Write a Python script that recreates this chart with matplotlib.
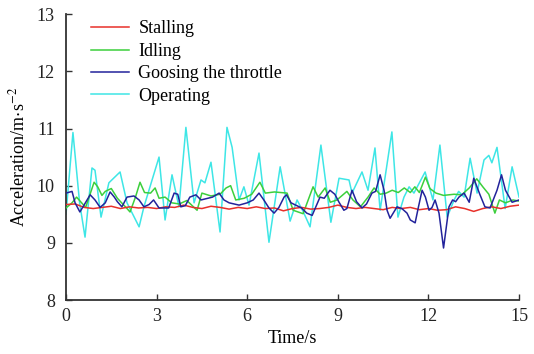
import matplotlib
matplotlib.use('Agg')
import matplotlib.pyplot as plt

# Stalling
t_stall = [0, 0.3, 0.6, 0.9, 1.2, 1.5, 1.8, 2.1, 2.4, 2.7, 3.0, 3.3, 3.6, 3.9, 4.2, 4.5, 4.8,
           5.1, 5.4, 5.7, 6.0, 6.3, 6.6, 6.9, 7.2, 7.5, 7.8, 8.1, 8.4, 8.7, 9.0, 9.3, 9.6, 9.9,
           10.2, 10.5, 10.8, 11.1, 11.4, 11.7, 12.0, 12.3, 12.6, 12.9, 13.2, 13.5, 13.8, 14.1,
           14.4, 14.7, 15.0]
stall = [9.67, 9.68, 9.62, 9.60, 9.62, 9.64, 9.60, 9.63, 9.61, 9.62, 9.60, 9.63, 9.62, 9.66,
         9.62, 9.60, 9.64, 9.62, 9.59, 9.62, 9.60, 9.63, 9.60, 9.61, 9.56, 9.60, 9.62, 9.59,
         9.60, 9.62, 9.66, 9.62, 9.60, 9.62, 9.60, 9.58, 9.62, 9.60, 9.62, 9.58, 9.60, 9.57,
         9.58, 9.63, 9.60, 9.55, 9.60, 9.63, 9.60, 9.64, 9.66]

# Idling
t_idle = [0.0, 0.2, 0.35, 0.55, 0.65, 0.93, 1.05, 1.19, 1.3, 1.5, 1.7, 2.02, 2.12, 2.3, 2.45,
          2.6, 2.8, 2.95, 3.08, 3.28, 3.5, 3.75, 4.0, 4.34, 4.5, 4.8, 5.1, 5.3, 5.45, 5.62, 5.9,
          6.15, 6.42, 6.6, 6.9, 7.32, 7.52, 7.85, 8.18, 8.35, 8.58, 8.75, 8.97, 9.3, 9.5, 9.75,
          10.0, 10.2, 10.4, 10.6, 10.8, 11.0, 11.2, 11.4, 11.55, 11.7, 11.9, 12.05, 12.25, 12.5,
          12.85, 13.1, 13.35, 13.6, 13.8, 14.0, 14.2, 14.35, 14.55, 14.8, 15.0]
idle = [9.61, 9.70, 9.80, 9.68, 9.62, 10.06, 9.98, 9.83, 9.90, 9.95, 9.78, 9.60, 9.54, 9.80,
        10.06, 9.88, 9.87, 9.96, 9.78, 9.80, 9.70, 9.68, 9.74, 9.57, 9.87, 9.82, 9.85, 9.96,
        10.00, 9.75, 9.78, 9.85, 10.06, 9.87, 9.89, 9.87, 9.57, 9.51, 9.98, 9.80, 9.96, 9.71,
        9.75, 9.90, 9.75, 9.63, 9.80, 9.96, 9.85, 9.87, 9.92, 9.88, 9.96, 9.88, 9.98, 9.88,
        10.15, 9.95, 9.87, 9.83, 9.85, 9.84, 9.96, 10.12, 9.98, 9.85, 9.52, 9.75, 9.70, 9.75,
        9.73]

# Goosing the throttle
t_goose = [0.0, 0.2, 0.3, 0.46, 0.8, 0.96, 1.13, 1.3, 1.46, 1.6, 1.7, 1.85, 2.02, 2.25, 2.42,
           2.58, 2.75, 2.9, 3.08, 3.4, 3.58, 3.7, 3.8, 3.95, 4.1, 4.3, 4.47, 4.7, 4.85, 5.07,
           5.23, 5.4, 5.73, 6.0, 6.2, 6.39, 6.55, 6.72, 6.89, 7.05, 7.22, 7.3, 7.45, 7.8, 7.97,
           8.15, 8.41, 8.55, 8.74, 8.9, 9.04, 9.2, 9.3, 9.47, 9.62, 9.8, 9.95, 10.13, 10.25,
           10.4, 10.53, 10.63, 10.73, 10.96, 11.12, 11.29, 11.4, 11.56, 11.67, 11.79, 11.9,
           12.02, 12.12, 12.22, 12.35, 12.5, 12.68, 12.8, 12.9, 13.01, 13.18, 13.35, 13.5, 13.7,
           13.87, 14.04, 14.27, 14.42, 14.55, 14.77, 15.0]
goose = [9.87, 9.90, 9.70, 9.54, 9.84, 9.75, 9.62, 9.70, 9.89, 9.80, 9.72, 9.63, 9.80, 9.82,
         9.75, 9.63, 9.67, 9.75, 9.61, 9.61, 9.87, 9.85, 9.63, 9.65, 9.80, 9.84, 9.75, 9.78,
         9.80, 9.87, 9.75, 9.70, 9.66, 9.70, 9.75, 9.87, 9.75, 9.61, 9.52, 9.62, 9.80, 9.84,
         9.70, 9.61, 9.52, 9.48, 9.80, 9.78, 9.92, 9.85, 9.71, 9.57, 9.60, 9.92, 9.72, 9.61,
         9.68, 9.87, 9.90, 10.19, 9.92, 9.57, 9.43, 9.63, 9.60, 9.52, 9.40, 9.35, 9.63, 9.92,
         9.80, 9.57, 9.62, 9.75, 9.52, 8.91, 9.63, 9.75, 9.72, 9.80, 9.87, 9.71, 10.13, 9.85,
         9.63, 9.61, 9.92, 10.19, 9.92, 9.71, 9.75]

# Operating
t_oper = [0.0, 0.23, 0.45, 0.63, 0.86, 0.96, 1.16, 1.42, 1.79, 2.02, 2.42, 2.58, 3.08, 3.28,
          3.51, 3.74, 3.97, 4.24, 4.47, 4.6, 4.8, 5.1, 5.33, 5.5, 5.73, 5.89, 6.06, 6.39, 6.72,
          7.09, 7.42, 7.65, 7.85, 8.08, 8.44, 8.77, 9.04, 9.37, 9.47, 9.8, 10.0, 10.23, 10.4,
          10.79, 10.99, 11.19, 11.36, 11.52, 11.89, 12.15, 12.38, 12.62, 12.85, 13.0, 13.18,
          13.38, 13.61, 13.84, 14.0, 14.1, 14.27, 14.54, 14.77, 15.0]
oper = [9.50, 10.93, 9.70, 9.10, 10.31, 10.27, 9.45, 10.05, 10.24, 9.70, 9.28, 9.63, 10.50,
        9.40, 10.19, 9.63, 11.02, 9.70, 10.10, 10.05, 10.41, 9.19, 11.02, 10.67, 9.75, 9.98,
        9.66, 10.57, 9.01, 10.33, 9.38, 9.75, 9.55, 9.28, 10.71, 9.36, 10.13, 10.10, 9.87,
        10.24, 9.92, 10.66, 9.57, 10.94, 9.45, 9.80, 9.98, 9.87, 10.24, 9.75, 10.71, 9.45,
        9.75, 9.90, 9.80, 10.48, 9.87, 10.45, 10.53, 10.40, 10.67, 9.60, 10.33, 9.80]

plt.rcParams['font.family'] = ['Liberation Serif', 'DejaVu Serif']
plt.rcParams['mathtext.fontset'] = 'stix'

fig = plt.figure(figsize=(5.34, 3.54), dpi=100)
ax = fig.add_axes([0.1236, 0.1525, 0.8484, 0.8075])

ax.plot(t_stall, stall, color='#e8302a', lw=1.1, label='Stalling', zorder=4)
ax.plot(t_idle, idle, color='#3ccf3c', lw=1.1, label='Idling', zorder=3)
ax.plot(t_goose, goose, color='#23239b', lw=1.1, label='Goosing the throttle', zorder=5)
ax.plot(t_oper, oper, color='#3ee6e6', lw=1.1, label='Operating', zorder=2)

ax.set_xlim(0, 15)
ax.set_ylim(8, 13)
ax.set_xticks([0, 3, 6, 9, 12, 15])
ax.set_yticks([8, 9, 10, 11, 12, 13])
ax.spines['top'].set_visible(False)
ax.spines['right'].set_visible(False)
for s in ['left', 'bottom']:
    ax.spines[s].set_linewidth(1.3)
    ax.spines[s].set_color('#333333')
ax.tick_params(direction='in', length=4, width=1, labelsize=13, colors='#333333',
               labelcolor='#222222')
ax.tick_params(axis='x', pad=6)
ax.tick_params(axis='y', pad=8)

ax.set_xlabel('Time/s', fontsize=13, labelpad=3)
ax.set_ylabel('Acceleration/m$\\cdot$s$^{-2}$', fontsize=13, labelpad=6)

ax.legend(loc='upper left', bbox_to_anchor=(0.02, 1.035), frameon=False, fontsize=13,
          handlelength=2.1, labelspacing=0.3, handletextpad=0.5)

fig.savefig('out.png', dpi=100)
